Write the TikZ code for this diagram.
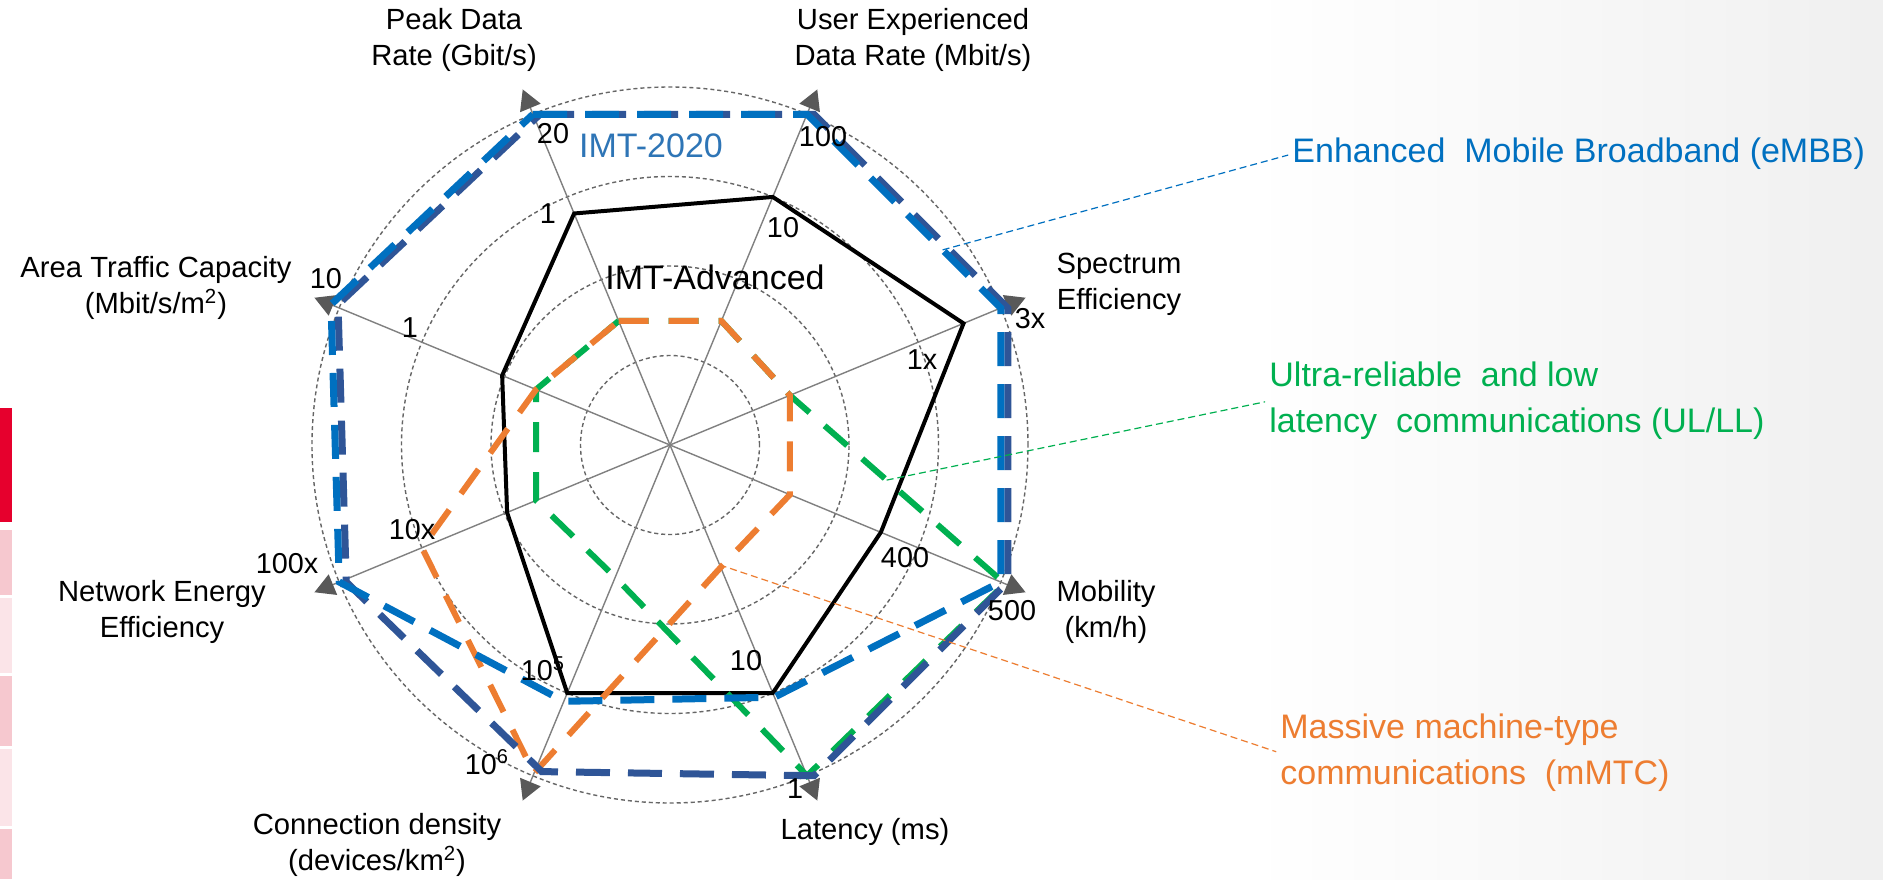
\documentclass[tikz,border=0pt]{standalone}
\usepackage{fontspec}
\setmainfont{Liberation Sans}
\usetikzlibrary{arrows.meta,calc}

\definecolor{embbblue}{RGB}{0,112,192}
\definecolor{imtblue}{RGB}{47,85,151}
\definecolor{titleblue}{RGB}{46,117,182}
\definecolor{urllcgreen}{RGB}{0,176,80}
\definecolor{mmtcorange}{RGB}{237,125,49}
\definecolor{tipgray}{RGB}{89,89,89}
\definecolor{slidered}{RGB}{230,0,45}
\definecolor{pinkdark}{RGB}{246,200,207}
\definecolor{pinklight}{RGB}{251,228,232}

\begin{document}
\begin{tikzpicture}[x=0.5pt,y=0.5pt]

\tikzstyle{axislabel}=[font=\fontsize{14.6}{18}\selectfont, align=center, inner sep=0pt]
\tikzstyle{ticklabel}=[font=\fontsize{14.4}{17}\selectfont, inner sep=0pt]
\tikzstyle{ring}=[draw=black!60, line width=0.7pt, dash pattern=on 2pt off 1.5pt]
\tikzstyle{axis}=[draw=black!50, line width=0.7pt, -{Triangle[length=10pt,width=11pt,color=tipgray]}]
\tikzstyle{advanced}=[draw=black, line width=2pt]
\tikzstyle{imt}=[draw=imtblue, line width=3.5pt, dash pattern=on 17pt off 9pt]
\tikzstyle{embb}=[draw=embbblue, line width=3.5pt, dash pattern=on 17pt off 9pt]
\tikzstyle{urllc}=[draw=urllcgreen, line width=3pt, dash pattern=on 15pt off 10pt]
\tikzstyle{mmtc}=[draw=mmtcorange, line width=3pt, dash pattern=on 15pt off 10pt]
\tikzstyle{leader}=[line width=0.6pt, dash pattern=on 3.5pt off 2pt, shorten >=2pt]
\tikzstyle{usecase}=[font=\fontsize{17}{23}\selectfont, align=left, inner sep=0pt, anchor=west]
\tikzstyle{title}=[font=\fontsize{17}{20}\selectfont, inner sep=0pt]

\useasboundingbox (0,0) rectangle (1883,879);
\fill[white] (0,0) rectangle (1883,879);
\shade[left color=white, right color=black!6] (1250,0) rectangle (1883,879);
\fill[slidered] (0,357) rectangle (12,471);
\fill[pinkdark] (0,284) rectangle (12,349);
\fill[pinklight] (0,206) rectangle (12,281);
\fill[pinkdark] (0,133) rectangle (12,203);
\fill[pinklight] (0,53) rectangle (12,130);
\fill[pinkdark] (0,0) rectangle (12,50);

\begin{scope}[shift={(670,434)},x=44.75pt,y=44.75pt]
\coordinate (c) at (0,0);
\draw[ring] (c) circle[radius=1];
\draw[ring] (c) circle[radius=2];
\draw[ring] (c) circle[radius=3];
\draw[ring] (c) circle[radius=4];

\coordinate (peaktip) at (112.5:4.3);
\coordinate (usertip) at (67.5:4.3);
\coordinate (spectip) at (22.5:4.3);
\coordinate (mobtip) at (-22.5:4.3);
\coordinate (lattip) at (-67.5:4.3);
\coordinate (conntip) at (-112.5:4.3);
\coordinate (nettip) at (-157.5:4.3);
\coordinate (areatip) at (157.5:4.3);
\draw[axis] (c) -- (peaktip);
\draw[axis] (c) -- (usertip);
\draw[axis] (c) -- (spectip);
\draw[axis] (c) -- (mobtip);
\draw[axis] (c) -- (lattip);
\draw[axis] (c) -- (conntip);
\draw[axis] (c) -- (nettip);
\draw[axis] (c) -- (areatip);

\draw[advanced] (112.5:2.8) -- (67.5:3) -- (22.5:3.55) -- (-22.5:2.55) -- (-67.5:3) -- (-112.5:3) -- (-157.5:1.97) -- (157.5:2.03) -- cycle;
\draw[urllc] (112.5:1.5) -- (67.5:1.5) -- (22.5:1.45) -- (-22.5:4.05) -- (-67.5:4) -- (-112.5:1.6) -- (-157.5:1.62) -- (157.5:1.62) -- cycle;
\draw[mmtc] (112.5:1.5) -- (67.5:1.5) -- (22.5:1.45) -- (-22.5:1.45) -- (-67.5:1.48) -- (-112.5:3.97) -- (-157.5:3) -- (157.5:1.62) -- cycle;
\draw[imt, xshift=3.5pt] (112.5:4) -- (67.5:4) -- (22.5:4) -- (-22.5:4) -- (-67.5:4) -- (-112.5:3.95) -- (-157.5:4) -- (157.5:4.1) -- cycle;
\draw[embb] (112.5:4) -- (67.5:4) -- (22.5:4) -- (-22.5:4) -- (-67.5:3.05) -- (-112.5:3.1) -- (-157.5:4) -- (157.5:4.1) -- cycle;

\coordinate (embbpt) at ($(67.5:4)!0.7!(22.5:4)$);
\coordinate (urllcpt) at ($(22.5:1.45)!0.45!(-22.5:4.05)$);
\coordinate (mmtcpt) at (-67.5:1.45);
\end{scope}

\node[title, text=titleblue] (imt2020) at (651,733) {IMT-2020};
\node[title] (imtadv) at (715,602) {IMT-Advanced};

\node[axislabel] (peaklbl) at (454,839) {Peak Data\\Rate (Gbit/s)};
\node[axislabel] (userlbl) at (913,839) {User Experienced\\Data Rate (Mbit/s)};
\node[axislabel] (speclbl) at (1119,595) {Spectrum\\Efficiency};
\node[axislabel] (moblbl) at (1106,267) {Mobility\\(km/h)};
\node[axislabel] (latlbl) at (865,47) {Latency (ms)};
\node[axislabel] (connlbl) at (377,34) {Connection density\\(devices/km\textsuperscript{2})};
\node[axislabel] (netlbl) at (162,267) {Network Energy\\Efficiency};
\node[axislabel] (arealbl) at (156,591) {Area Traffic Capacity\\(Mbit/s/m\textsuperscript{2})};

\node[ticklabel] (peaknew) at (553,745) {20};
\node[ticklabel] (peakadv) at (548,665) {1};
\node[ticklabel] (usernew) at (823,742) {100};
\node[ticklabel] (useradv) at (783,651) {10};
\node[ticklabel] (specnew) at (1030,560) {3x};
\node[ticklabel] (specadv) at (922,519) {1x};
\node[ticklabel] (mobnew) at (1012,268) {500};
\node[ticklabel] (mobadv) at (905,321) {400};
\node[ticklabel] (latadv) at (746,218) {10};
\node[ticklabel] (latnew) at (795,90) {1};
\node[ticklabel] (connadv) at (543,210) {10\textsuperscript{5}};
\node[ticklabel] (connnew) at (487,117) {10\textsuperscript{6}};
\node[ticklabel] (netadv) at (412,349) {10x};
\node[ticklabel] (netnew) at (287,315) {100x};
\node[ticklabel] (areanew) at (326,600) {10};
\node[ticklabel] (areaadv) at (410,551) {1};

\node[usecase, text=embbblue] (embbtxt) at (1292,725) {Enhanced\ \ Mobile Broadband (eMBB)};
\node[usecase, text=urllcgreen] (urllctxt) at (1269,478) {Ultra-reliable\ \ and low\\latency\ \ communications (UL/LL)};
\node[usecase, text=mmtcorange] (mmtctxt) at (1280,126) {Massive machine-type\\communications\ \ (mMTC)};

\draw[leader, embbblue] (embbpt) -- (embbtxt.west);
\draw[leader, urllcgreen] (urllcpt) -- (urllctxt.west);
\draw[leader, mmtcorange] (mmtcpt) -- (mmtctxt.west);
\end{tikzpicture}
\end{document}
